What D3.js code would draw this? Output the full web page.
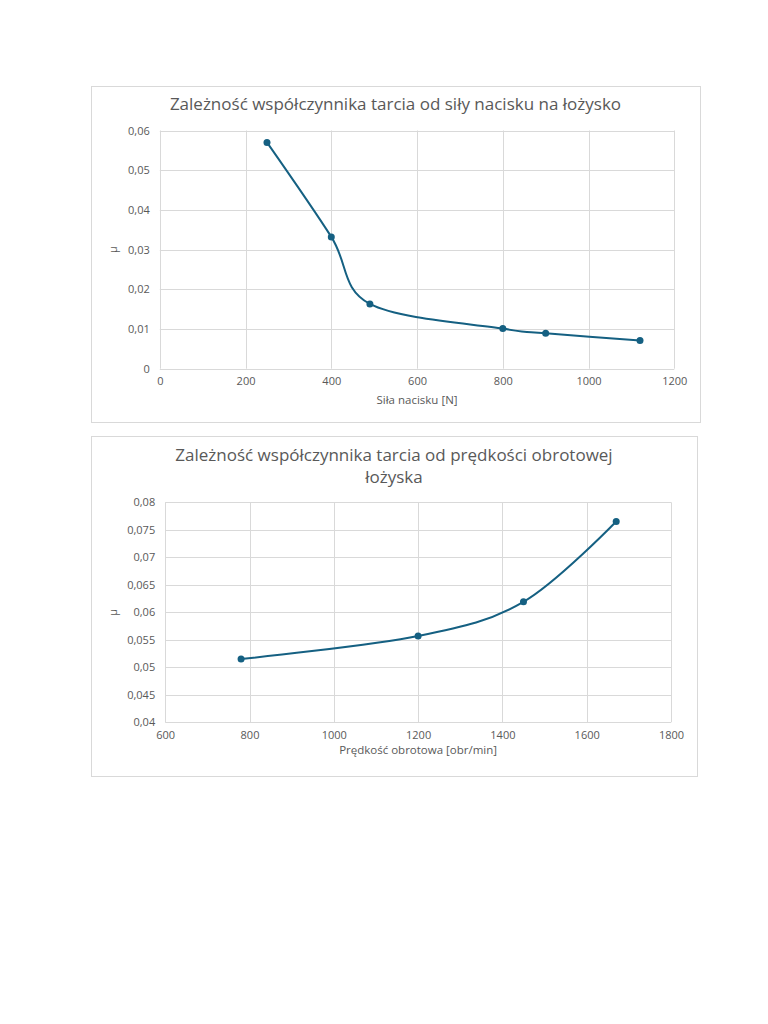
<!DOCTYPE html>
<html><head><meta charset="utf-8">
<script src="https://cdn.jsdelivr.net/npm/d3@7"></script>
<style>
body{margin:0;background:#fff;}
svg{display:block;font-family:"Open Sans",sans-serif;}
</style></head>
<body>
<svg id="c" width="768" height="1024"></svg>
<script>
// Chart 1 data
const title1 = ["Zależność współczynnika tarcia od siły nacisku na łożysko"];
const xTitle1 = "Siła nacisku [N]";
const force = [250, 400, 490, 800, 900, 1120];
const mu1 = [0.057, 0.0332, 0.0163, 0.0101, 0.0089, 0.0071];
const xTicks1 = [0, 200, 400, 600, 800, 1000, 1200];
const yTicks1 = [0, 0.01, 0.02, 0.03, 0.04, 0.05, 0.06];

// Chart 2 data
const title2 = ["Zależność współczynnika tarcia od prędkości obrotowej", "łożyska"];
const xTitle2 = "Prędkość obrotowa [obr/min]";
const speed = [780, 1200, 1450, 1670];
const mu2 = [0.0515, 0.0557, 0.0619, 0.0765];
const xTicks2 = [600, 800, 1000, 1200, 1400, 1600, 1800];
const yTicks2 = [0.04, 0.045, 0.05, 0.055, 0.06, 0.065, 0.07, 0.075, 0.08];

const yTitle = "μ";

const loc = d3.formatLocale({decimal: ",", thousands: "", grouping: [3], currency: ["", ""]});
const fmtY = v => v === 0 ? "0" : loc.format("")(+v.toFixed(4));

const svg = d3.select("#c");
const LINE = "#156082", TXT = "#595959", GRID = "#d9d9d9";

function chart(cfg) {
  const g = svg.append("g");
  g.append("rect").attr("x", cfg.frame[0] + 0.5).attr("y", cfg.frame[1] + 0.5)
    .attr("width", cfg.frame[2] - cfg.frame[0]).attr("height", cfg.frame[3] - cfg.frame[1])
    .attr("fill", "#fff").attr("stroke", GRID).attr("stroke-width", 1);
  const x = d3.scaleLinear().domain(cfg.xDom).range([cfg.plot[0], cfg.plot[2]]);
  const y = d3.scaleLinear().domain(cfg.yDom).range([cfg.plot[3], cfg.plot[1]]);
  // gridlines
  g.append("g").selectAll("line.h").data(cfg.yTicks).join("line")
    .attr("x1", cfg.plot[0]).attr("x2", cfg.plot[2])
    .attr("y1", d => Math.round(y(d)) + 0.5).attr("y2", d => Math.round(y(d)) + 0.5)
    .attr("stroke", GRID).attr("stroke-width", 1);
  g.append("g").selectAll("line.v").data(cfg.xTicks).join("line")
    .attr("y1", cfg.plot[1]).attr("y2", cfg.plot[3])
    .attr("x1", d => Math.round(x(d)) + 0.5).attr("x2", d => Math.round(x(d)) + 0.5)
    .attr("stroke", GRID).attr("stroke-width", 1);
  // axes labels via d3 axes
  const ay = g.append("g").attr("transform", `translate(${cfg.plot[0]},0)`)
    .call(d3.axisLeft(y).tickValues(cfg.yTicks).tickFormat(fmtY).tickSize(0).tickPadding(10));
  const ax = g.append("g").attr("transform", `translate(0,${cfg.plot[3]})`)
    .call(d3.axisBottom(x).tickValues(cfg.xTicks).tickFormat(d => String(d)).tickSize(0).tickPadding(9));
  [ax, ay].forEach(a => {
    a.select(".domain").remove();
    a.selectAll("text").attr("fill", TXT).style("font-size", "11px").style("font-family", '"Open Sans",sans-serif');
  });
  // titles
  const cx = (cfg.frame[0] + cfg.frame[2]) / 2;
  cfg.title.forEach((t, i) => {
    g.append("text").attr("x", cx).attr("y", cfg.titleY + i * 22).attr("text-anchor", "middle")
      .attr("fill", TXT).style("font-size", "17px").text(t);
  });
  g.append("text").attr("x", (cfg.plot[0] + cfg.plot[2]) / 2).attr("y", cfg.xTitleY)
    .attr("text-anchor", "middle").attr("fill", TXT).style("font-size", "11.5px").text(cfg.xTitle);
  g.append("text").attr("transform", `translate(${cfg.yTitleX},${(cfg.plot[1] + cfg.plot[3]) / 2}) rotate(-90)`)
    .attr("text-anchor", "middle").attr("fill", TXT).style("font-size", "11px").text(yTitle);
  // line
  const pts = cfg.xs.map((d, i) => [d, cfg.ys[i]]);
  g.append("path").datum(pts)
    .attr("d", d3.line().x(d => x(d[0])).y(d => y(d[1])).curve(d3.curveCardinal.tension(0)))
    .attr("fill", "none").attr("stroke", LINE).attr("stroke-width", 2);
  g.append("g").selectAll("circle").data(pts).join("circle")
    .attr("cx", d => x(d[0])).attr("cy", d => y(d[1])).attr("r", 3.5).attr("fill", LINE);
}

chart({
  frame: [91, 86, 700, 422], plot: [159.8, 130.5, 674.3, 368.7],
  xDom: [0, 1200], yDom: [0, 0.06], xTicks: xTicks1, yTicks: yTicks1,
  title: title1, titleY: 110, xTitle: xTitle1, xTitleY: 404, yTitleX: 117,
  xs: force, ys: mu1
});
chart({
  frame: [91, 436, 697, 776], plot: [165.2, 502.3, 671, 722.3],
  xDom: [600, 1800], yDom: [0.04, 0.08], xTicks: xTicks2, yTicks: yTicks2,
  title: title2, titleY: 461, xTitle: xTitle2, xTitleY: 754, yTitleX: 117,
  xs: speed, ys: mu2
});
</script>
</body></html>
